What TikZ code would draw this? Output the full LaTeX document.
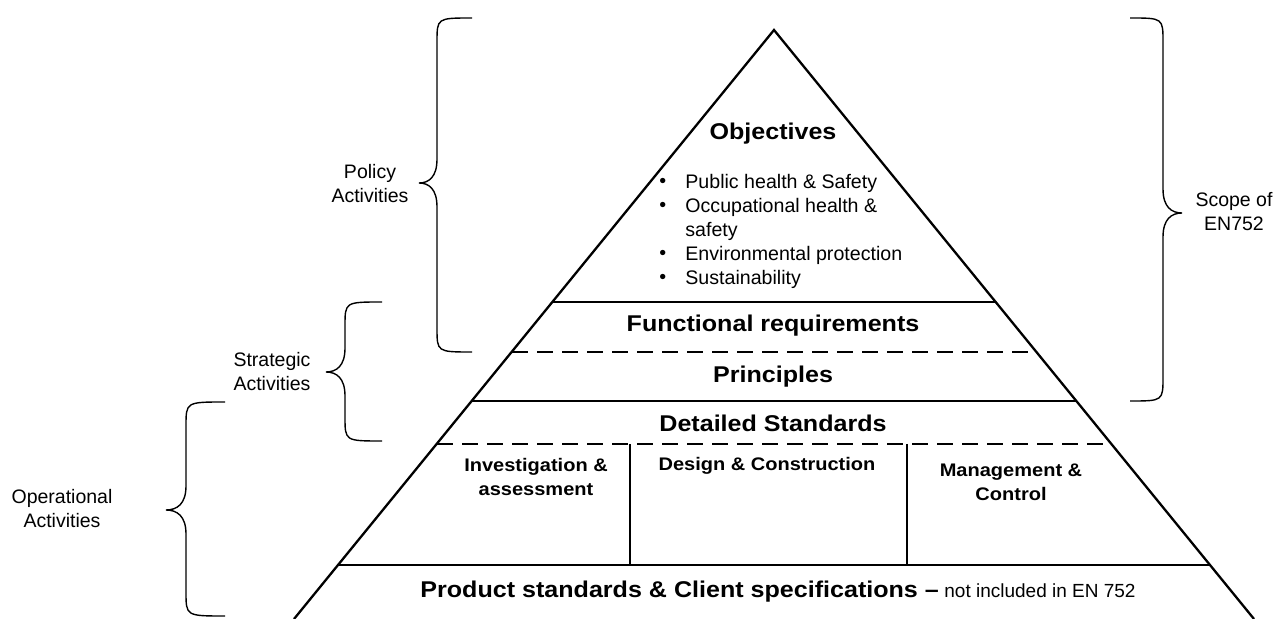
\documentclass[tikz,border=0pt]{standalone}
\usepackage{fontspec}
\setmainfont{Liberation Sans}
\newfontfamily\wb{Liberation Sans}[FakeStretch=1.1]
\newcommand\mybrace[6]{% xv, xend, ytop, ytip, ybot, tipoffset
  \draw[brc] (#2,#3) .. controls (#1,#3) and (#1,#3) .. (#1,{#3+24})
    -- (#1,{#4-24}) .. controls (#1,{#4-6}) and ({#1+0.45*#6},#4) .. ({#1+#6},#4)
    .. controls ({#1+0.45*#6},#4) and (#1,{#4+6}) .. (#1,{#4+24})
    -- (#1,{#5-24}) .. controls (#1,#5) and (#1,#5) .. (#2,#5);}
\begin{document}
\begin{tikzpicture}[x=0.5pt,y=-0.5pt,
  tri/.style={line width=1.15pt, line join=miter},
  hsolid/.style={line width=1.4pt},
  hdash/.style={line width=1.4pt, dash pattern=on 8pt off 4.5pt},
  vline/.style={line width=0.75pt},
  brc/.style={line width=0.7pt},
  ttl/.style={font=\wb\bfseries\fontsize{11.4}{13}\selectfont, inner sep=0pt},
  sub/.style={font=\wb\bfseries\fontsize{9.1}{12}\selectfont, align=center, inner sep=0pt},
  lbl/.style={font=\fontsize{9.75}{12}\selectfont, align=center, inner sep=0pt},
  blt/.style={font=\fontsize{9.8}{12}\selectfont, inner sep=0pt, anchor=west}]
\useasboundingbox (0,0) rectangle (1280,619);
% pyramid
\coordinate (apex) at (774,30);
\coordinate (bl) at (294,619);
\coordinate (br) at (1254,619);
\draw[tri] (bl) -- (apex) -- (br);
\coordinate (l1) at (552,302); \coordinate (r1) at (996,302);
\coordinate (l2) at (512,352); \coordinate (r2) at (1036,352);
\coordinate (l3) at (472,401); \coordinate (r3) at (1076,401);
\coordinate (l4) at (437,444); \coordinate (r4) at (1111,444);
\coordinate (l5) at (338,565); \coordinate (r5) at (1210,565);
\draw[hsolid] (l1) -- (r1);
\draw[hdash] (l2) -- (r2);
\draw[hsolid] (l3) -- (r3);
\draw[hdash] (l4) -- (r4);
\draw[hsolid] (l5) -- (r5);
\coordinate (v1t) at (630,444); \coordinate (v1b) at (630,565);
\coordinate (v2t) at (907,444); \coordinate (v2b) at (907,565);
\draw[vline] (v1t) -- (v1b);
\draw[vline] (v2t) -- (v2b);
% texts in pyramid
\node[ttl] (obj) at (773,134) {Objectives};
\node[blt] (d1) at (659,183) {•};
\node[blt] (t1) at (685,183) {Public health \& Safety};
\node[blt] (d2) at (659,207) {•};
\node[blt] (t2) at (685,207) {Occupational health \&};
\node[blt] (t2b) at (685,231) {safety};
\node[blt] (d3) at (659,255) {•};
\node[blt] (t3) at (685,255) {Environmental protection};
\node[blt] (d4) at (659,279) {•};
\node[blt] (t4) at (685,279) {Sustainability};
\node[ttl] (fr) at (773,326) {Functional requirements};
\node[ttl] (pr) at (773,377) {Principles};
\node[ttl] (ds) at (773,423) {Detailed Standards};
\node[sub] (ia) at (536,477) {Investigation \&\\assessment};
\node[sub] (dc) at (767,466) {Design \& Construction};
\node[sub] (mc) at (1011,482) {Management \&\\Control};
\node[inner sep=0pt] (ps) at (778,592) {{\wb\bfseries\fontsize{11.4}{13}\selectfont Product standards \& Client specifications –} {\fontsize{9.5}{12}\selectfont not included in EN 752}};
% braces
\mybrace{437}{472}{18}{183}{352}{-18}
\mybrace{345}{382}{302}{372}{441}{-19}
\mybrace{186}{225}{402}{510}{616}{-20}
\mybrace{1163}{1130}{18}{213}{401}{19}
\node[lbl] (pol) at (370,184) {Policy\\Activities};
\node[lbl] (str) at (272,372) {Strategic\\Activities};
\node[lbl] (opr) at (62,509) {Operational\\Activities};
\node[lbl] (scp) at (1234,212) {Scope of\\EN752};
\end{tikzpicture}
\end{document}
